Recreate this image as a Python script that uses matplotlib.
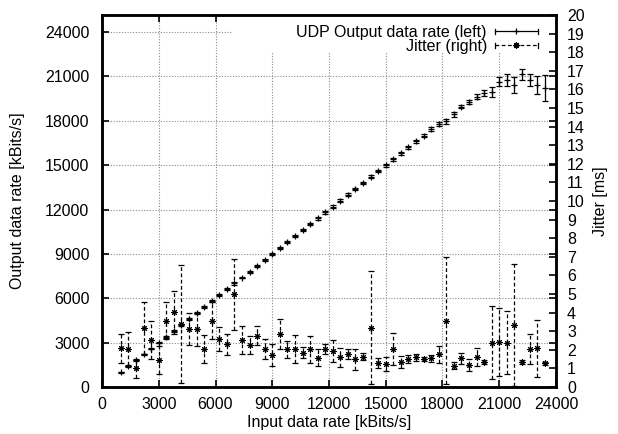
import matplotlib
matplotlib.use("Agg")
import matplotlib.pyplot as plt
from matplotlib.lines import Line2D
from matplotlib.legend_handler import HandlerBase
from matplotlib.patches import Rectangle

# Input data rate [kBits/s]
input_rate = [1000, 1400, 1800, 2200, 2600, 3000, 3400, 3800, 4200, 4600,
              5000, 5400, 5800, 6200, 6600, 7000, 7400, 7800, 8200, 8600,
              9000, 9400, 9800, 10200, 10600, 11000, 11400, 11800, 12200, 12600,
              13000, 13400, 13800, 14200, 14600, 15000, 15400, 15800, 16200, 16600,
              17000, 17400, 17800, 18200, 18600, 19000, 19400, 19800, 20200, 20600,
              21000, 21400, 21800, 22200, 22600, 23000, 23400]

# UDP output data rate [kBits/s] and its spread
output_rate = [1000, 1400, 1800, 2200, 2600, 3000, 3400, 3800, 4200, 4600,
               5000, 5400, 5800, 6200, 6600, 7000, 7400, 7800, 8200, 8600,
               9000, 9400, 9800, 10200, 10600, 11000, 11400, 11800, 12200, 12600,
               13000, 13400, 13800, 14200, 14600, 15000, 15400, 15800, 16200, 16600,
               17000, 17420, 17760, 17950, 18430, 18950, 19250, 19630, 19860, 19970,
               20640, 20760, 20420, 21140, 20760, 20420, 20190]
output_err = [40, 50, 50, 60, 60, 50, 80, 70, 90, 60,
              60, 70, 60, 70, 60, 80, 60, 70, 60, 70,
              70, 80, 70, 80, 70, 80, 90, 80, 90, 80,
              90, 80, 90, 100, 90, 100, 110, 100, 120, 110,
              120, 130, 130, 150, 150, 100, 130, 180, 220, 340,
              310, 380, 570, 370, 420, 630, 880]

# Jitter [ms] and its spread
jitter = [2.08, 2.06, 1.00, 3.15, 2.53, 1.45, 3.57, 4.01, 3.39, 3.12,
          3.10, 2.03, 3.56, 2.56, 2.29, 4.98, 2.53, 2.26, 2.76, 2.03,
          1.72, 2.85, 2.03, 2.03, 1.85, 2.03, 1.58, 2.03, 1.94, 1.60,
          1.77, 1.49, 1.63, 3.19, 1.27, 1.24, 2.03, 1.36, 1.49, 1.60,
          1.52, 1.54, 1.76, 3.57, 1.15, 1.54, 1.18, 1.63, 1.33, 2.38,
          2.44, 2.38, 3.33, 1.36, 2.04, 2.08, 1.27]
jitter_err = [0.77, 0.90, 0.50, 1.40, 1.00, 0.77, 1.00, 1.17, 3.15, 0.85,
              0.90, 0.75, 1.00, 0.64, 0.56, 1.90, 0.75, 0.50, 0.50, 0.55,
              0.60, 0.80, 0.47, 0.75, 0.30, 0.72, 0.47, 0.27, 0.60, 0.50,
              0.25, 0.55, 0.20, 3.05, 0.27, 0.36, 0.85, 0.33, 0.22, 0.18,
              0.10, 0.18, 0.45, 3.40, 0.20, 0.30, 0.30, 0.48, 0.10, 1.95,
              1.83, 1.68, 3.30, 0.10, 0.80, 1.52, 0.10]

x_ticks = [0, 3000, 6000, 9000, 12000, 15000, 18000, 21000, 24000]
y_ticks = [0, 3000, 6000, 9000, 12000, 15000, 18000, 21000, 24000]
y2_ticks = list(range(0, 21))

labels = ["UDP Output data rate (left)", "Jitter (right)"]

FS = 11.5
plt.rcParams["font.family"] = ["Liberation Sans", "DejaVu Sans"]
plt.rcParams["font.size"] = FS

W, H = 618, 434
fig = plt.figure(figsize=(W / 100, H / 100), dpi=100)
L, R, T, B = 102, 556, 15, 387
ax = fig.add_axes([L / W, (H - B) / H, (R - L) / W, (B - T) / H])
ax2 = ax.twinx()

DASH = (0, (3.0, 2.0))
ASTER = (8, 2, 0)

# output data rate: solid error bars with plus markers
ax.errorbar(input_rate, output_rate, yerr=output_err, fmt="+", color="black",
            ms=5, mew=0.9, elinewidth=0.9, capsize=2.2, capthick=0.9, zorder=3)

# jitter: dashed error bars with asterisk markers
jc = ax2.errorbar(input_rate, jitter, yerr=jitter_err, fmt="none", ecolor="black",
                  elinewidth=0.9, capsize=2.2, capthick=0.9, zorder=3)
for bc in jc[2]:
    bc.set_linestyle(DASH)
ax2.plot(input_rate, jitter, linestyle="none", marker=ASTER, ms=4.5, mew=0.75,
         color="black", zorder=4)

ax.set_xlim(0, 24000)
ax.set_ylim(0, 25150)
ax2.set_ylim(0, 20)

ax.set_xticks(x_ticks)
ax.set_xticklabels([str(v) for v in x_ticks])
ax.set_yticks(y_ticks)
ax.set_yticklabels([str(v) for v in y_ticks])
ax2.set_yticks(y2_ticks)
ax2.set_yticklabels([str(v) for v in y2_ticks])

ax.tick_params(axis="both", which="both", direction="in", length=5, width=1.2,
               top=True, right=True, labelsize=FS, colors="black")
ax.tick_params(axis="x", pad=7)
ax.tick_params(axis="y", pad=9)
ax2.tick_params(axis="y", direction="in", length=5, width=1.2, labelsize=FS, pad=8)

for a in (ax, ax2):
    for s in a.spines.values():
        s.set_linewidth(1.8)

ax.grid(True, linestyle=(0, (1, 1.5)), color="#8a8a8a", linewidth=0.8)
ax.set_axisbelow(True)

# white key area masks the grid under the legend
ax.add_patch(Rectangle(((233 - L) / (R - L), (B - 52) / (B - T)),
                       1 - (233 - L) / (R - L), (52 - T) / (B - T),
                       transform=ax.transAxes, facecolor="white",
                       edgecolor="none", zorder=1))

ax.set_xlabel("Input data rate [kBits/s]", fontsize=FS, va="center")
ax.xaxis.set_label_coords(0.5, (B - 422) / (B - T))
ax.set_ylabel("Output data rate [kBits/s]", fontsize=FS, va="center")
ax.yaxis.set_label_coords((18 - L) / (R - L), 0.5)
ax2.set_ylabel("Jitter [ms]", fontsize=FS, va="center")
ax2.yaxis.set_label_coords((601 - L) / (R - L), 0.5)


class ErrorbarKey(HandlerBase):
    def __init__(self, ls, marker, ms):
        super().__init__()
        self.ls = ls
        self.marker = marker
        self.ms = ms

    def create_artists(self, legend, orig_handle, xdescent, ydescent,
                       width, height, fontsize, trans):
        y = (height - ydescent) / 2
        x0, x1 = -xdescent, width - xdescent
        c = 0.2 * height
        arts = [Line2D([x0, x1], [y, y], linestyle=self.ls, color="black", lw=0.9),
                Line2D([x0, x0], [y - c, y + c], color="black", lw=0.9),
                Line2D([x1, x1], [y - c, y + c], color="black", lw=0.9),
                Line2D([(x0 + x1) / 2], [y], marker=self.marker, ms=self.ms,
                       mew=0.9, color="black", linestyle="none")]
        for a in arts:
            a.set_transform(trans)
        return arts


h1 = Line2D([], [], color="black")
h2 = Line2D([], [], color="black", linestyle="--")
ax2.legend([h1, h2], labels, loc="upper right",
           bbox_to_anchor=((538 - L) / (R - L), (B - 25) / (B - T)),
           frameon=False, markerfirst=False, borderaxespad=0, borderpad=0,
           handlelength=2.7, handletextpad=0.5, labelspacing=-0.06,
           fontsize=FS,
           handler_map={h1: ErrorbarKey("-", "+", 5), h2: ErrorbarKey(DASH, ASTER, 4.5)})

fig.savefig("out.png", dpi=100)
